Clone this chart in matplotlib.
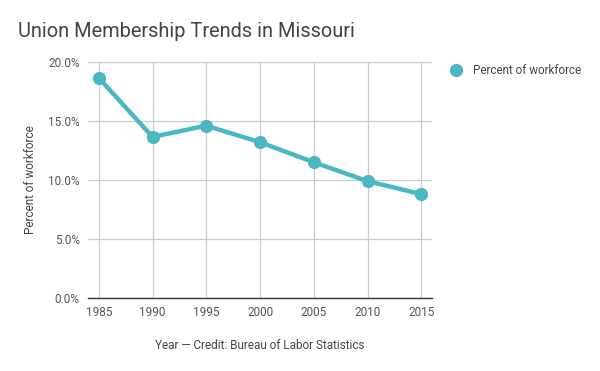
import matplotlib
matplotlib.use("Agg")
import matplotlib.pyplot as plt
from matplotlib.ticker import FuncFormatter

plt.rcParams["font.family"] = ["Roboto", "DejaVu Sans"]

years = [1985, 1990, 1995, 2000, 2005, 2010, 2015]
pct_workforce = [18.65, 13.65, 14.6, 13.2, 11.5, 9.9, 8.8]
y_ticks = [0, 5, 10, 15, 20]

color = "#4BB7C0"
grid = "#cccccc"

fig = plt.figure(figsize=(6, 3.71), dpi=100)
ax = fig.add_axes([0.1467, 0.1968, 0.5733, 0.6362])

ax.plot(years, pct_workforce, color=color, lw=3.2, marker="o", ms=8.5,
        label="Percent of workforce", zorder=3, solid_capstyle="round")

ax.set_xlim(1984, 2016)
ax.set_ylim(0, 20)
ax.set_xticks(years)
ax.set_yticks(y_ticks)
ax.yaxis.set_major_formatter(FuncFormatter(lambda v, _: f"{v:.1f}%"))
ax.grid(True, color=grid, lw=0.9)
ax.set_axisbelow(True)
for s in ["top", "right", "left"]:
    ax.spines[s].set_visible(False)
ax.spines["bottom"].set_color("#333333")
ax.spines["bottom"].set_linewidth(1.0)
ax.tick_params(length=0, labelsize=8.5, colors="#555555", pad=6)

ax.set_xlabel("Year — Credit: Bureau of Labor Statistics", fontsize=8.5,
              color="#444444", labelpad=14)
ax.set_ylabel("Percent of workforce", fontsize=8.5, color="#444444", labelpad=8)

fig.text(0.03, 0.915, "Union Membership Trends in Missouri", fontsize=14.4,
         color="#444444", va="center")

leg = ax.legend(loc="upper left", bbox_to_anchor=(1.03, 1.035), frameon=False,
                fontsize=8.4, handlelength=0.6, handletextpad=1.1, markerscale=1.0)
for t in leg.get_texts():
    t.set_color("#444444")
for h in leg.legend_handles:
    h.set_linestyle("none")

fig.savefig("out.png", dpi=100)
